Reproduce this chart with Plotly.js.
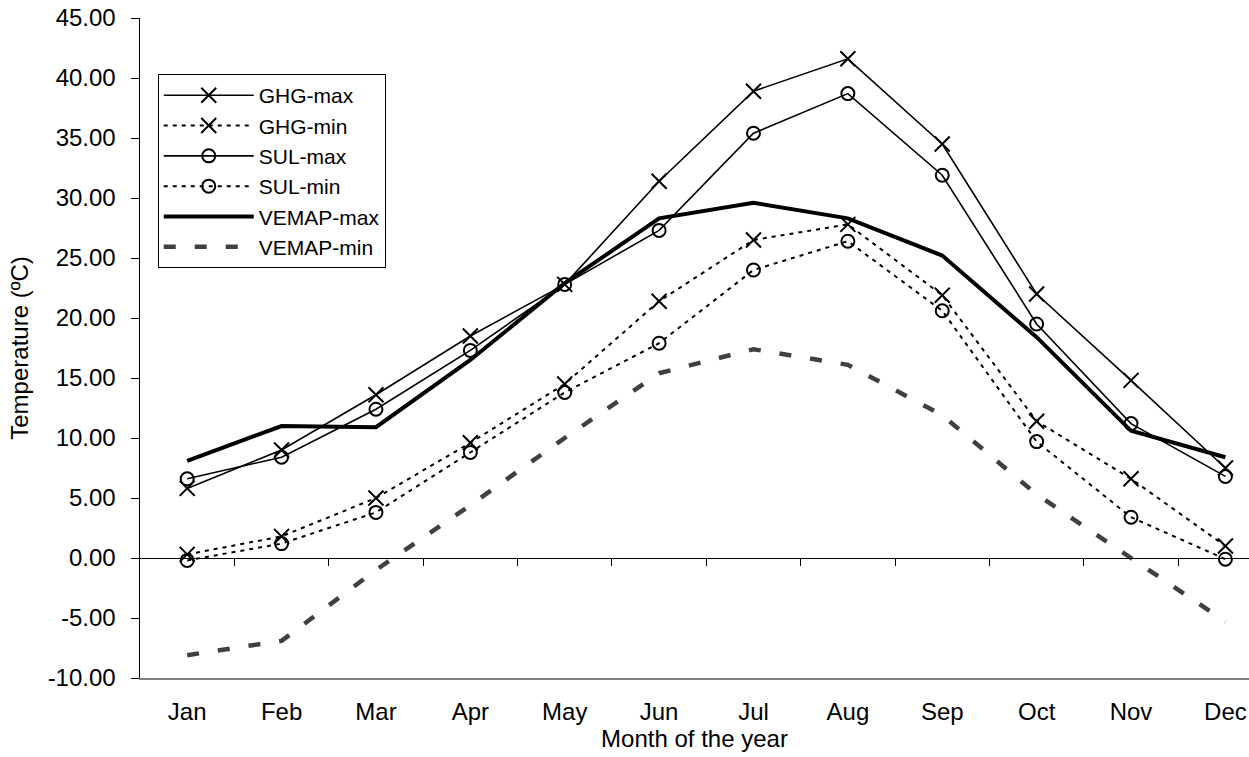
<!DOCTYPE html>
<html>
<head>
<meta charset="utf-8">
<script src="https://cdn.plot.ly/plotly-3.0.1.min.js"></script>
<style>html,body{margin:0;padding:0;background:#fff;}#chart{width:1249px;height:757px;}</style>
</head>
<body>
<div id="chart"></div>
<script>
const months = ["Jan","Feb","Mar","Apr","May","Jun","Jul","Aug","Sep","Oct","Nov","Dec"];
const ghgMax   = [5.8, 9.0, 13.6, 18.5, 22.8, 31.4, 38.9, 41.6, 34.5, 22.0, 14.8, 7.5];
const ghgMin   = [0.3, 1.8, 5.0, 9.6, 14.5, 21.4, 26.5, 27.8, 21.9, 11.4, 6.6, 1.0];
const sulMax   = [6.6, 8.4, 12.4, 17.3, 22.8, 27.3, 35.4, 38.7, 31.9, 19.5, 11.2, 6.8];
const sulMin   = [-0.2, 1.2, 3.8, 8.8, 13.8, 17.9, 24.0, 26.4, 20.6, 9.7, 3.4, -0.1];
const vemapMax = [8.1, 11.0, 10.9, 16.5, 22.9, 28.3, 29.6, 28.3, 25.2, 18.4, 10.6, 8.4];
const vemapMin = [-8.1, -6.9, -1.0, 4.4, 10.0, 15.4, 17.4, 16.1, 11.9, 5.3, 0.0, -5.3];
const yTicks = [-10, -5, 0, 5, 10, 15, 20, 25, 30, 35, 40, 45];

const xIdx = months.map((m, i) => i);
const font = "Liberation Sans, Arial, sans-serif";

function tr(name, y, dash, width, color, symbol, group, xa) {
  const t = {
    type: "scatter", mode: symbol ? "lines+markers" : "lines",
    name: name, x: xIdx, y: y, legendgroup: group, xaxis: xa || "x",
    line: {color: color, width: width, dash: dash}
  };
  if (symbol) {
    const isX = symbol.indexOf("x") === 0;
    t.marker = {symbol: symbol, size: isX ? 15 : 13, color: "#000",
      line: {color: "#000", width: 2}};
  }
  return t;
}

const data = [
  tr("GHG-max", ghgMax, "solid", 1.6, "#000", "x-thin", "g1", "x2"),
  tr("GHG-min", ghgMin, "4px,5px", 2, "#000", "x-thin", "g2"),
  tr("SUL-max", sulMax, "solid", 1.6, "#000", "circle-open", "g3"),
  tr("SUL-min", sulMin, "4px,5px", 2, "#000", "circle-open", "g4"),
  tr("VEMAP-max", vemapMax, "solid", 4, "#000", null, "g5"),
  tr("VEMAP-min", vemapMin, "12px,19px", 4.5, "#404040", null, "g6")
];

const layout = {
  width: 1249, height: 757,
  paper_bgcolor: "#fff", plot_bgcolor: "#fff",
  margin: {l: 140, r: 0, t: 18, b: 79},
  font: {family: font, size: 24, color: "#000"},
  showlegend: true,
  legend: {
    x: 0.016, y: 0.915, xanchor: "left", yanchor: "top",
    bordercolor: "#000", borderwidth: 1, bgcolor: "#fff",
    font: {family: font, size: 21, color: "#000"},
    tracegroupgap: 0, traceorder: "grouped", itemwidth: 90
  },
  xaxis: {
    type: "linear", range: [-0.5, 11.25],
    tickmode: "array", tickvals: xIdx, ticktext: months,
    ticks: "", showgrid: false, zeroline: false,
    showline: true, linecolor: "#808080", linewidth: 2,
    ticklabelstandoff: 11,
    tickfont: {family: font, size: 24},
    title: {text: "Month of the year", font: {family: font, size: 24}, standoff: 2}
  },
  xaxis2: {
    type: "linear", range: [-0.5, 11.25], overlaying: "x",
    anchor: "free", position: 10 / 55, side: "bottom",
    tickmode: "array", tickvals: xIdx.map(i => i + 0.5),
    ticks: "outside", ticklen: 7, tickcolor: "#000", tickwidth: 1,
    showticklabels: false, showgrid: false, zeroline: false,
    showline: true, linecolor: "#000", linewidth: 1.2
  },
  yaxis: {
    range: [-10, 45], tickmode: "array", tickvals: yTicks,
    ticktext: yTicks.map(v => v.toFixed(2)),
    ticks: "outside", ticklen: 8, tickcolor: "#000",
    ticklabelstandoff: 10,
    tickfont: {family: font, size: 24},
    showline: true, linecolor: "#000", linewidth: 1.5,
    showgrid: false, zeroline: false,
    title: {text: "Temperature (ºC)", font: {family: font, size: 24}, standoff: 12}
  }
};

Plotly.newPlot("chart", data, layout, {displayModeBar: false, staticPlot: true});
</script>
</body>
</html>
